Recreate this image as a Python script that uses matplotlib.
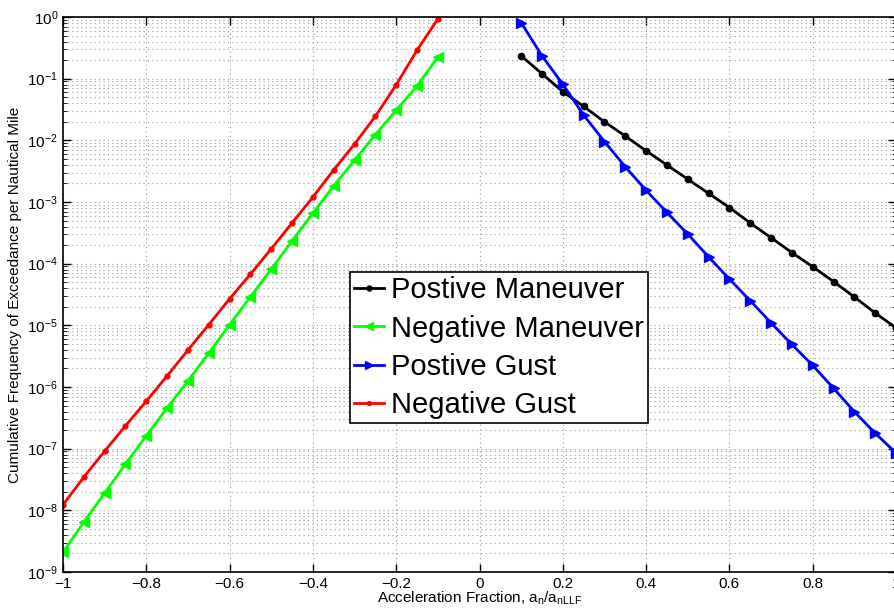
import numpy as np
import matplotlib
matplotlib.use("Agg")
import matplotlib.pyplot as plt
from matplotlib.ticker import LogLocator, FixedLocator, FixedFormatter, NullFormatter

plt.rcParams['font.family'] = ['Liberation Sans', 'DejaVu Sans']
plt.rcParams['mathtext.fontset'] = 'custom'
plt.rcParams['mathtext.rm'] = 'Liberation Sans'
plt.rcParams['mathtext.it'] = 'Liberation Sans'

x_neg = [-1.0, -0.95, -0.9, -0.85, -0.8, -0.75, -0.7, -0.65, -0.6, -0.55,
         -0.5, -0.45, -0.4, -0.35, -0.3, -0.25, -0.2, -0.15, -0.1]
x_pos = [0.1, 0.15, 0.2, 0.25, 0.3, 0.35, 0.4, 0.45, 0.5, 0.55,
         0.6, 0.65, 0.7, 0.75, 0.8, 0.85, 0.9, 0.95, 1.0]

log_pos_maneuver = [-0.63, -0.92, -1.21, -1.45, -1.70, -1.93, -2.17, -2.40, -2.63, -2.86,
                    -3.09, -3.34, -3.58, -3.82, -4.05, -4.29, -4.54, -4.80, -5.04]
log_neg_maneuver = [-8.68, -8.19, -7.72, -7.25, -6.79, -6.34, -5.90, -5.45, -4.99, -4.54,
                    -4.09, -3.63, -3.18, -2.74, -2.32, -1.91, -1.51, -1.12, -0.65]
log_pos_gust = [-0.09, -0.63, -1.09, -1.59, -2.02, -2.43, -2.81, -3.17, -3.52, -3.89,
                -4.25, -4.60, -4.96, -5.31, -5.65, -6.02, -6.40, -6.75, -7.07]
log_neg_gust = [-7.91, -7.46, -7.04, -6.63, -6.23, -5.82, -5.40, -4.99, -4.57, -4.17,
                -3.76, -3.34, -2.92, -2.48, -2.06, -1.61, -1.10, -0.54, -0.03]

labels = ['Postive Maneuver', 'Negative Maneuver', 'Postive Gust', 'Negative Gust']
x_ticks = [-1, -0.8, -0.6, -0.4, -0.2, 0, 0.2, 0.4, 0.6, 0.8, 1]
x_tick_labels = ['\u22121', '\u22120.8', '\u22120.6', '\u22120.4', '\u22120.2', '0',
                 '0.2', '0.4', '0.6', '0.8', '1']

W, H = 894, 613
fig = plt.figure(figsize=(W / 100, H / 100), dpi=100)
ax = fig.add_axes([63 / W, (H - 572) / H, (896 - 63) / W, (572 - 17) / H])

ax.semilogy(x_pos, 10 ** np.array(log_pos_maneuver), color='k', marker='.', markersize=9,
            linewidth=2, label=labels[0])
ax.semilogy(x_neg, 10 ** np.array(log_neg_maneuver), color='#00ff00', marker='<', markersize=7,
            linewidth=2, label=labels[1])
ax.semilogy(x_pos, 10 ** np.array(log_pos_gust), color='#0000ff', marker='>', markersize=7,
            linewidth=2, label=labels[2])
ax.semilogy(x_neg, 10 ** np.array(log_neg_gust), color='#ff0000', marker='.', markersize=7,
            linewidth=2, label=labels[3])

ax.set_xlim(-1, 1)
ax.set_ylim(1e-9, 1e0)
ax.xaxis.set_major_locator(FixedLocator(x_ticks))
ax.xaxis.set_major_formatter(FixedFormatter(x_tick_labels))
ax.yaxis.set_major_locator(LogLocator(base=10, numticks=20))
ax.yaxis.set_minor_locator(LogLocator(base=10, subs=np.arange(2, 10), numticks=20))
ax.yaxis.set_minor_formatter(NullFormatter())

ax.tick_params(axis='both', which='both', direction='in', labelsize=11, top=True, right=True)
ax.tick_params(axis='both', which='major', length=6, width=1)
ax.tick_params(axis='y', which='minor', length=3)
for s in ax.spines.values():
    s.set_linewidth(1.2)

ax.grid(True, which='major', linestyle=(0, (1, 3)), color='#999999', linewidth=0.8)
ax.grid(True, which='minor', axis='y', linestyle=(0, (1, 3)), color='#999999', linewidth=0.8)
ax.set_axisbelow(True)

ax.set_xlabel('Acceleration Fraction, a$_\\mathrm{n}$/a$_\\mathrm{nLLF}$', fontsize=11, labelpad=-1)
ax.set_ylabel('Cumulative Frequency of Exceedance per Nautical Mile', fontsize=11, labelpad=4)

leg = ax.legend(loc='upper left', bbox_to_anchor=((350 - 63) / 833, 1 - (272 - 17) / 555),
                fontsize=21, fancybox=False, edgecolor='k', framealpha=1,
                handlelength=1.0, handletextpad=0.25, borderpad=0.15, labelspacing=0.35,
                borderaxespad=0, markerscale=0.8)
leg.get_frame().set_linewidth(1.2)

fig.savefig('out.png', dpi=100)
